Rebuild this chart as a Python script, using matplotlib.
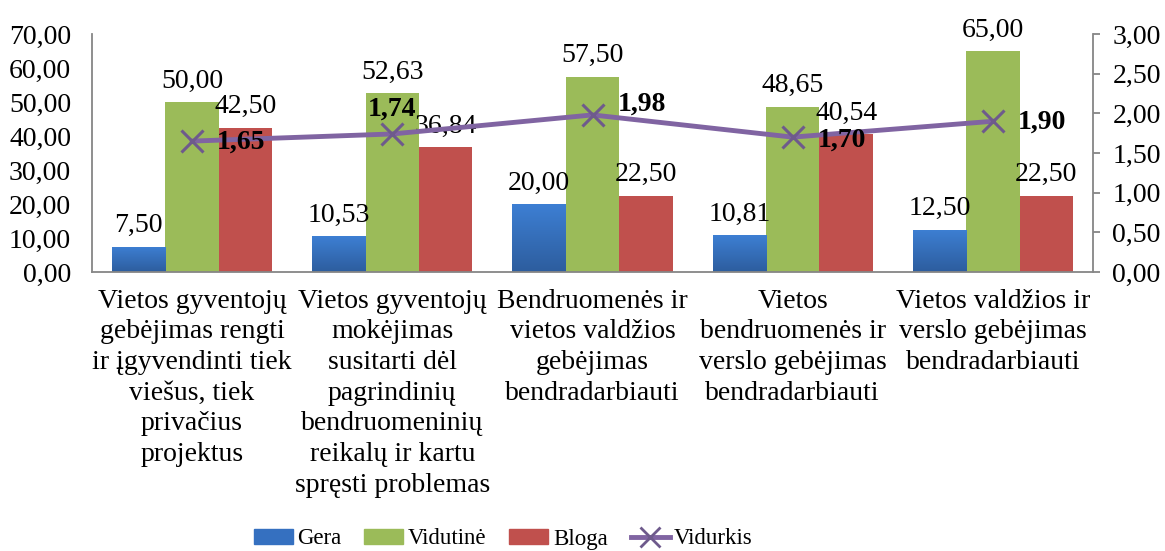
import matplotlib
matplotlib.use("Agg")
import matplotlib.pyplot as plt
import numpy as np
from matplotlib.patches import Patch
from matplotlib.lines import Line2D
from matplotlib.colors import LinearSegmentedColormap

categories = [
    "Vietos gyventojų\ngebėjimas rengti\nir įgyvendinti tiek\nviešus, tiek\nprivačius\nprojektus",
    "Vietos gyventojų\nmokėjimas\nsusitarti dėl\npagrindinių\nbendruomeninių\nreikalų ir kartu\nspręsti problemas",
    "Bendruomenės ir\nvietos valdžios\ngebėjimas\nbendradarbiauti",
    "Vietos\nbendruomenės ir\nverslo gebėjimas\nbendradarbiauti",
    "Vietos valdžios ir\nverslo gebėjimas\nbendradarbiauti",
]
gera = [7.50, 10.53, 20.00, 10.81, 12.50]
vidutine = [50.00, 52.63, 57.50, 48.65, 65.00]
bloga = [42.50, 36.84, 22.50, 40.54, 22.50]
vidurkis = [1.65, 1.74, 1.98, 1.70, 1.90]
series_names = ["Gera", "Vidutinė", "Bloga", "Vidurkis"]

left_ticks = [0, 10, 20, 30, 40, 50, 60, 70]
right_ticks = [0, 0.5, 1.0, 1.5, 2.0, 2.5, 3.0]

plt.rcParams['font.family'] = ['Liberation Serif', 'DejaVu Serif']
FS = 20

fig = plt.figure(figsize=(11.65, 5.51), dpi=100)
ax = fig.add_axes([92/1165, 1-272/551, (1093-92)/1165, (272-34)/551])
ax2 = ax.twinx()

x = np.arange(len(categories))
w = 0.267
colors = ["#3A70BA", "#9BBB59", "#C0504D"]
line_color = "#8064A2"
spine_c = "#868686"
blue_grad = LinearSegmentedColormap.from_list("bg", ["#2D5D9E", "#3D7FD3"])

def fmt(v):
    return f"{v:.2f}".replace(".", ",")

for i, (vals, c) in enumerate(zip([gera, vidutine, bloga], colors)):
    bars = ax.bar(x + (i - 1) * w, vals, w, color=c, zorder=2)
    for b, v in zip(bars, vals):
        if i == 0:
            x0 = b.get_x()
            im = ax.imshow(np.linspace(0, 1, 100).reshape(-1, 1), cmap=blue_grad,
                           extent=[x0, x0 + b.get_width(), 0, v], origin='lower',
                           aspect='auto', zorder=2.5)
            im.set_clip_path(b)
        ax.annotate(fmt(v), (b.get_x() + b.get_width() / 2, v), xytext=(0, 6),
                    textcoords="offset points", ha="center", va="bottom", fontsize=FS, zorder=5)

ax.set_xlim(-0.5, len(categories) - 0.5)
ax.set_ylim(0, 70)
ax.set_yticks(left_ticks)
ax.set_yticklabels([fmt(t) for t in left_ticks], fontsize=FS)
ax.set_xticks(x)
ax.set_xticklabels(categories, fontsize=FS, linespacing=1.3)
ax.tick_params(axis='x', length=0, pad=12)
ax.tick_params(axis='y', length=0, pad=15)
for s in ['top', 'right']:
    ax.spines[s].set_visible(False)
ax.spines['left'].set_color(spine_c)
ax.spines['bottom'].set_color(spine_c)
ax.spines['left'].set_linewidth(1.3)
ax.spines['bottom'].set_linewidth(1.3)

ax2.plot(x, vidurkis, color=line_color, lw=3.5, marker='x', ms=16, mew=2.2,
         mec="#6E5A8C", zorder=4)
ax2.set_ylim(0, 3)
ax2.set_yticks(right_ticks)
ax2.set_yticklabels([fmt(t) for t in right_ticks], fontsize=FS)
ax2.tick_params(axis='y', length=5, color=spine_c, width=1.3, pad=9)
for s in ['top', 'left', 'bottom']:
    ax2.spines[s].set_visible(False)
ax2.spines['right'].set_color(spine_c)
ax2.spines['right'].set_linewidth(1.3)

# label offsets (points): (dx, dy, ha, va)
label_pos = [(18, -1, 'left', 'center'), (0, 9, 'center', 'bottom'),
             (18, 8, 'left', 'center'), (18, -2, 'left', 'center'),
             (18, -1, 'left', 'center')]
for xi, v, (dx, dy, ha, va) in zip(x, vidurkis, label_pos):
    ax2.annotate(fmt(v), (xi, v), xytext=(dx, dy), textcoords="offset points",
                 ha=ha, va=va, fontsize=FS, fontweight='bold', zorder=6)

handles = [Patch(color="#3570C0"), Patch(color=colors[1]), Patch(color=colors[2]),
           Line2D([0], [0], color=line_color, lw=3.5, marker='x', ms=14, mew=2.0, mec="#6E5A8C")]
fig.legend(handles, series_names, loc='center', bbox_to_anchor=(0.432, 1 - 539/551),
           ncol=4, frameon=False, fontsize=16.5, handlelength=1.7, handleheight=0.58,
           handletextpad=0.2, columnspacing=1.0)

fig.savefig("out.png", dpi=100)
